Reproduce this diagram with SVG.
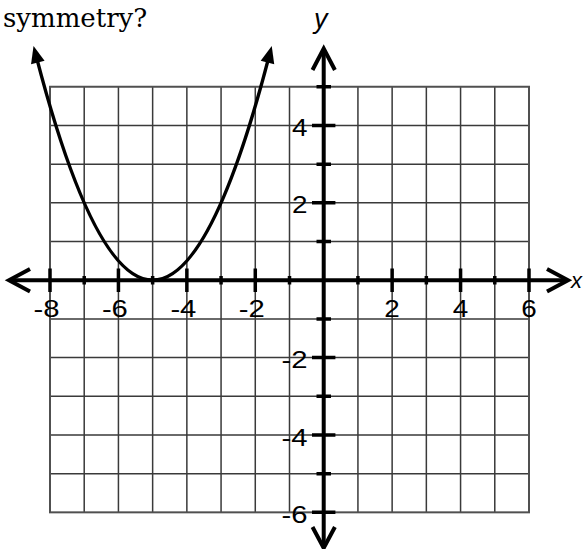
<svg xmlns="http://www.w3.org/2000/svg" width="584" height="549" viewBox="0 0 584 549">
<style>
.grid{fill:none;stroke:#3a3a3a;stroke-width:1.5}
.border{fill:none;stroke:#505050;stroke-width:2}
.axis{fill:none;stroke:#000;stroke-width:4}
.chev{fill:none;stroke:#000;stroke-width:4;stroke-linejoin:miter;stroke-linecap:butt}
.tick{stroke:#000;stroke-width:3.5}
.num{font-family:"Liberation Sans",Arial,sans-serif;font-size:23px;fill:#000}
.var{font-family:"Liberation Sans",Arial,sans-serif;font-size:27px;font-style:italic;fill:#000}
.title{font-family:"DejaVu Serif","Liberation Serif",serif;font-size:26px;fill:#000}
.curve{fill:none;stroke:#000;stroke-width:3.4}
</style>
<defs>
<marker id="tri" markerUnits="userSpaceOnUse" viewBox="0 -8 18 16" markerWidth="18" markerHeight="16" refX="6" refY="0" orient="auto-start-reverse" overflow="visible">
<path d="M0,-7 L17,0 L0,7 Z" fill="#000"/>
</marker>
</defs>
<rect width="584" height="549" fill="#fff"/>
<text class="title" x="3" y="27">symmetry?</text>
<g id="grid">
<path class="grid" d="M84.21,86.75V512.34 M118.43,86.75V512.34 M152.64,86.75V512.34 M186.86,86.75V512.34 M221.07,86.75V512.34 M255.28,86.75V512.34 M289.5,86.75V512.34 M323.71,86.75V512.34 M357.93,86.75V512.34 M392.14,86.75V512.34 M426.35,86.75V512.34 M460.57,86.75V512.34 M494.78,86.75V512.34 M50,125.44H529 M50,164.13H529 M50,202.82H529 M50,241.51H529 M50,280.2H529 M50,318.89H529 M50,357.58H529 M50,396.27H529 M50,434.96H529 M50,473.65H529"/>
<rect class="border" x="50" y="86.75" width="479" height="425.59"/>
</g>
<g id="axes">
<line class="axis" x1="10" y1="280.2" x2="567" y2="280.2"/>
<line class="axis" x1="323.71" y1="50" x2="323.71" y2="546"/>
<polyline class="chev" points="30,269 9,280.2 30,291.4"/>
<polyline class="chev" points="547,269 568,280.2 547,291.4"/>
<polyline class="chev" points="312.5,70 323.71,48.5 334.9,70"/>
<polyline class="chev" points="312.5,527 323.71,548 334.9,527"/>
</g>
<g id="ticks">
<path class="tick" d="M50,268.5V292 M118.43,268.5V292 M186.86,268.5V292 M255.28,268.5V292 M392.14,268.5V292 M460.57,268.5V292 M529,268.5V292"/>
<path class="tick" d="M84.21,276V284.5 M152.64,276V284.5 M221.07,276V284.5 M289.5,276V284.5 M357.93,276V284.5 M426.35,276V284.5 M494.78,276V284.5"/>
<path class="tick" d="M312,125.44H335.4 M312,202.82H335.4 M312,357.58H335.4 M312,434.96H335.4 M312,512.34H335.4"/>
<path class="tick" d="M316.5,86.75H331 M316.5,164.13H331 M316.5,241.51H331 M316.5,318.89H331 M316.5,396.27H331 M316.5,473.65H331"/>
</g>
<g id="labels">
<text class="var" x="314" y="28">y</text>
<text class="var" x="571" y="288" style="font-size:22px">x</text>
<text class="num" x="59.5" y="316.5" text-anchor="end" textLength="26" lengthAdjust="spacingAndGlyphs">-8</text>
<text class="num" x="127.9" y="316.5" text-anchor="end" textLength="26" lengthAdjust="spacingAndGlyphs">-6</text>
<text class="num" x="196.4" y="316.5" text-anchor="end" textLength="26" lengthAdjust="spacingAndGlyphs">-4</text>
<text class="num" x="264.8" y="316.5" text-anchor="end" textLength="26" lengthAdjust="spacingAndGlyphs">-2</text>
<text class="num" x="392.14" y="316.5" text-anchor="middle" textLength="15.5" lengthAdjust="spacingAndGlyphs">2</text>
<text class="num" x="460.57" y="316.5" text-anchor="middle" textLength="15.5" lengthAdjust="spacingAndGlyphs">4</text>
<text class="num" x="529" y="316.5" text-anchor="middle" textLength="15.5" lengthAdjust="spacingAndGlyphs">6</text>
<text class="num" x="307.5" y="136" text-anchor="end" textLength="15.5" lengthAdjust="spacingAndGlyphs">4</text>
<text class="num" x="307.5" y="213.4" text-anchor="end" textLength="15.5" lengthAdjust="spacingAndGlyphs">2</text>
<text class="num" x="307.5" y="368.2" text-anchor="end" textLength="26" lengthAdjust="spacingAndGlyphs">-2</text>
<text class="num" x="307.5" y="445.6" text-anchor="end" textLength="26" lengthAdjust="spacingAndGlyphs">-4</text>
<text class="num" x="307.5" y="522.9" text-anchor="end" textLength="26" lengthAdjust="spacingAndGlyphs">-6</text>
</g>
<g id="parabola">
<path class="curve" d="M36.31,56.6 Q152.64,503.8 268.97,56.6" marker-start="url(#tri)" marker-end="url(#tri)"/>
</g>
</svg>
